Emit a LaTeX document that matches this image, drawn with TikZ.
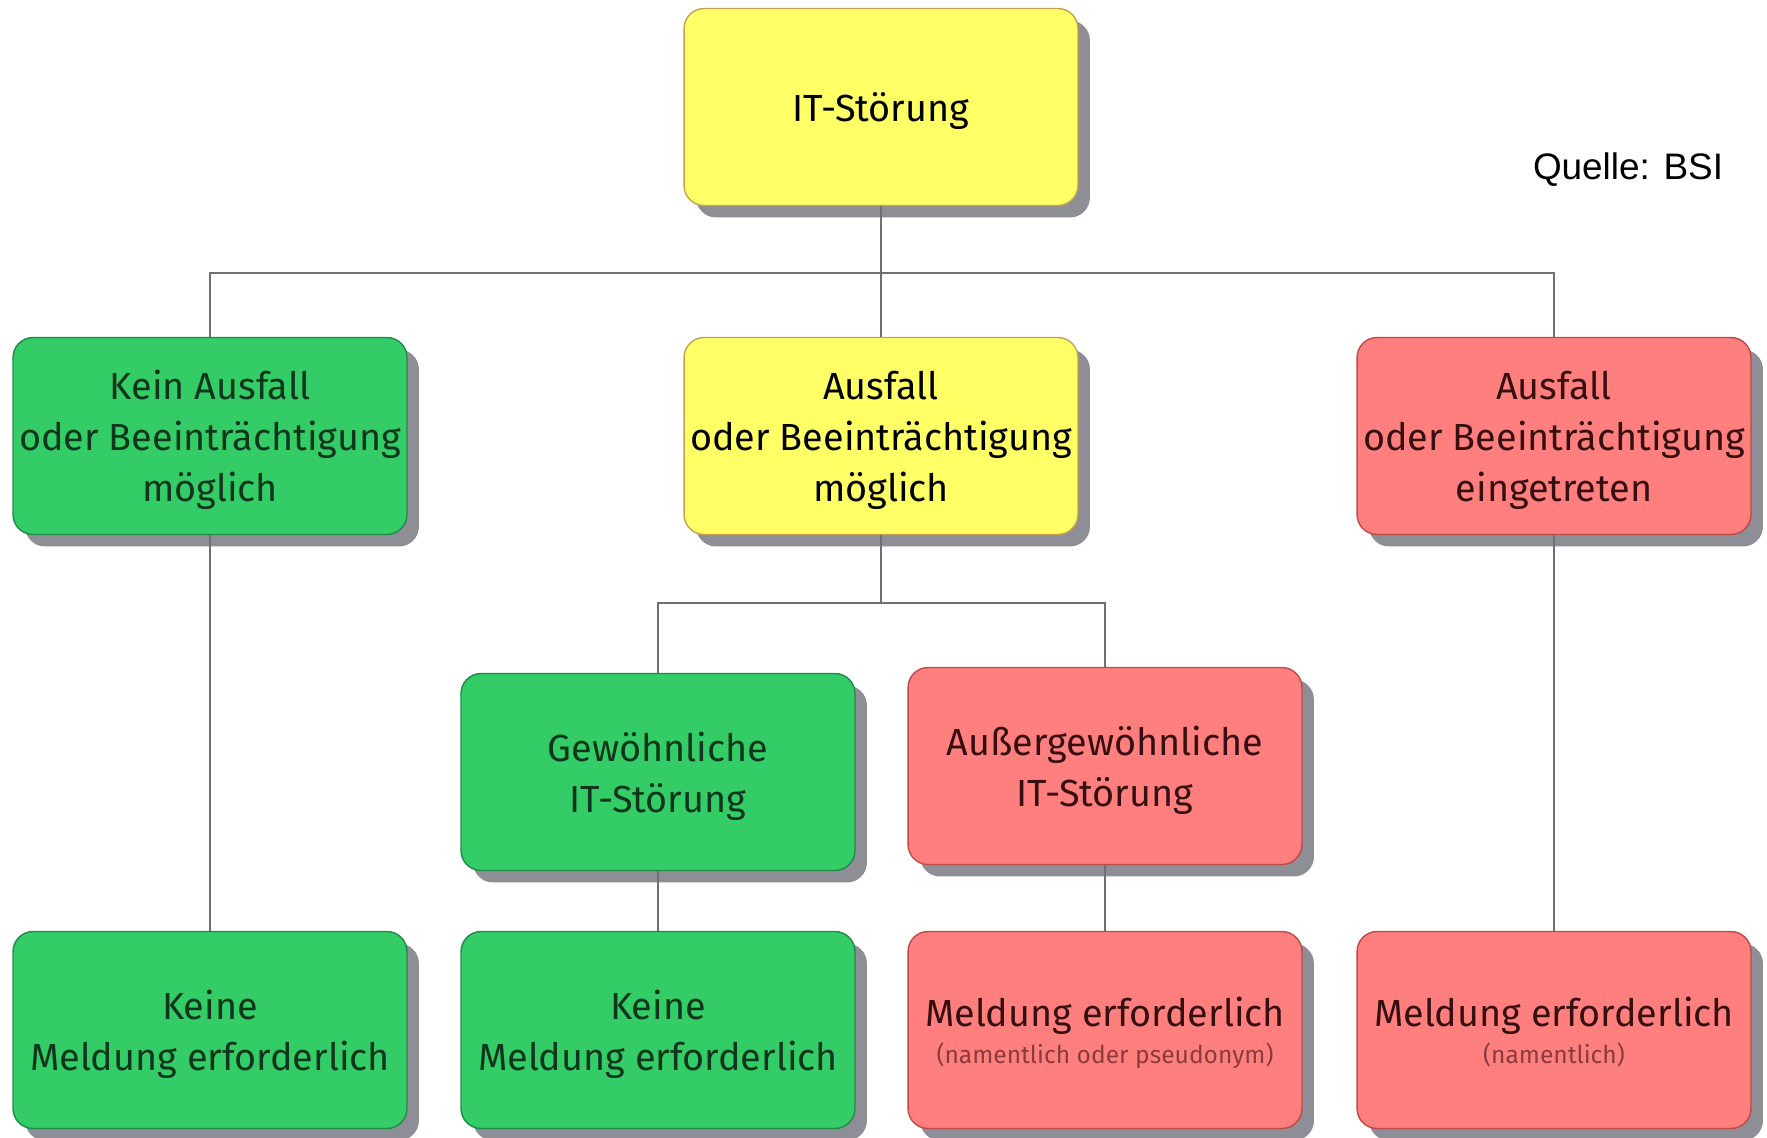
\documentclass[tikz,border=0pt]{standalone}
\usepackage{fontspec}
\setmainfont{Fira Sans}
\newfontfamily\quellefont{Liberation Sans}
\usetikzlibrary{shadows}

\definecolor{boxyellow}{HTML}{FFFF66}
\definecolor{yellowline}{HTML}{C8A050}
\definecolor{boxgreen}{HTML}{33CC66}
\definecolor{greenline}{HTML}{1E8C46}
\definecolor{greentext}{HTML}{0F361C}
\definecolor{boxred}{HTML}{FF7F7F}
\definecolor{redline}{HTML}{C04848}
\definecolor{redtext}{HTML}{361010}
\definecolor{redsub}{HTML}{8A3C3C}
\definecolor{linegray}{HTML}{707070}
\definecolor{shadowgray}{HTML}{8E8E96}

\newcommand\topstrut{\rule{0pt}{24pt}}
\newcommand\smallnote[1]{{\fontsize{14}{18}\selectfont\color{redsub}#1}}

\begin{document}
\begin{tikzpicture}
    [x=0.02cm, y=-0.02cm,
      box/.style={rectangle, rounded corners=0.4cm,
        minimum width=7.88cm, minimum height=3.94cm,
        line width=0.8pt, align=center,
        font=\fontsize{21.5}{29}\selectfont,
        execute at end node={\rule[-7pt]{0pt}{0pt}},
        drop shadow={shadow xshift=0.24cm, shadow yshift=-0.24cm,
          fill=shadowgray, opacity=1}},
      yellowbox/.style={box, fill=boxyellow, draw=yellowline, text=black},
      greenbox/.style={box, fill=boxgreen, draw=greenline, text=greentext},
      redbox/.style={box, fill=boxred, draw=redline, text=redtext},
      link/.style={draw=linegray, line width=1.1pt},
     ]
    \useasboundingbox (0,0) rectangle (1767,1137);

    \node[yellowbox] (it) at (881,107) {\topstrut IT-Störung};

    \node[greenbox] (kein) at (210,436)
      {\topstrut Kein Ausfall\\oder Beeinträchtigung\\möglich};
    \node[yellowbox] (moeglich) at (881,436)
      {\topstrut Ausfall\\oder Beeinträchtigung\\möglich};
    \node[redbox] (eingetreten) at (1554,436)
      {\topstrut Ausfall\\oder Beeinträchtigung\\eingetreten};

    \node[greenbox] (gewoehnlich) at (658,772) {\topstrut Gewöhnliche\\IT-Störung};
    \node[redbox] (aussergew) at (1105,766) {\topstrut Außergewöhnliche\\IT-Störung};

    \node[greenbox] (keine1) at (210,1030) {\topstrut Keine\\Meldung erforderlich};
    \node[greenbox] (keine2) at (658,1030) {\topstrut Keine\\Meldung erforderlich};
    \node[redbox] (meldung1) at (1105,1030)
      {\topstrut Meldung erforderlich\\[-8pt]\smallnote{(namentlich oder pseudonym)}};
    \node[redbox] (meldung2) at (1554,1030)
      {\topstrut Meldung erforderlich\\[-8pt]\smallnote{(namentlich)}};

    \node[font=\quellefont\fontsize{21}{24}\selectfont, inner sep=0pt] (quelle)
      at (1628,170) {Quelle: BSI};

    % verbindungen
    \coordinate (bus1) at (881,273);
    \coordinate (bus2) at (881,603);
    \draw[link] (it.south) -- (bus1) -- (moeglich.north);
    \draw[link] (kein.north) |- (bus1) -| (eingetreten.north);
    \draw[link] (moeglich.south) -- (bus2);
    \draw[link] (gewoehnlich.north) |- (bus2) -| (aussergew.north);
    \draw[link] (kein.south) -- (keine1.north);
    \draw[link] (gewoehnlich.south) -- (keine2.north);
    \draw[link] (aussergew.south) -- (meldung1.north);
    \draw[link] (eingetreten.south) -- (meldung2.north);
\end{tikzpicture}
\end{document}
